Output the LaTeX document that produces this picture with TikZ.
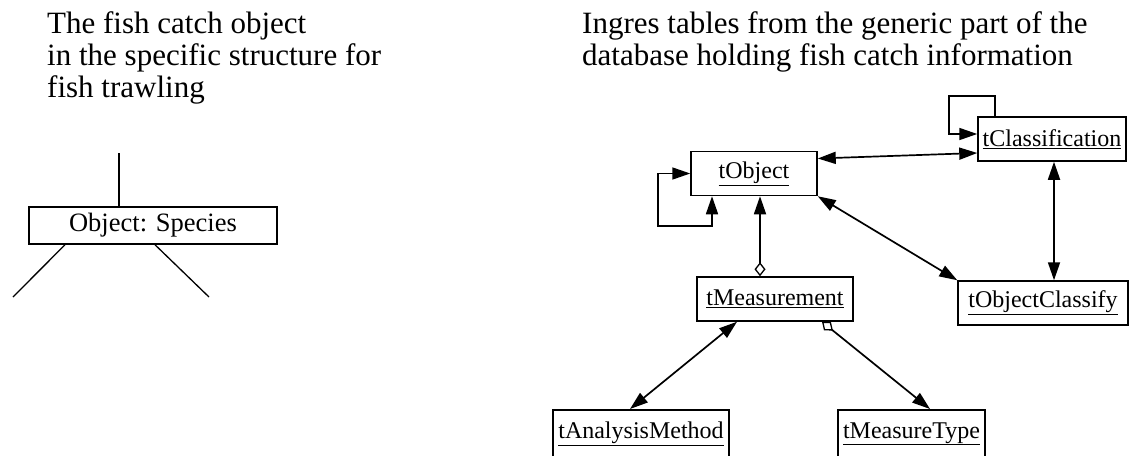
\documentclass[tikz,border=0pt]{standalone}
\usepackage{fontspec}
\setmainfont{Liberation Serif}
\usetikzlibrary{arrows.meta,positioning}
\tikzset{
    tbl/.style={draw,line width=1.5pt,inner sep=0pt,minimum height=44pt,font=\fontsize{24}{24}\selectfont},
    title/.style={inner sep=0pt,anchor=north west,align=left,font=\fontsize{31}{32}\selectfont},
    link/.style={line width=1.7pt},
    agg/.style={link,{Diamond[open,length=14pt,width=11pt,line width=1.3pt]}->},
}

\begin{document}
\begin{tikzpicture}[x=1pt,y=-1pt,>={Triangle[length=18pt,width=12pt]}]
    \useasboundingbox (0,0) rectangle (1132,455);
    \clip (0,0) rectangle (1132,455);
    % headings
    \node[title] (lhead) at (47,11) {The fish catch object\\in the specific structure for\\fish trawling};
    \node[title] (rhead) at (582,11) {Ingres tables from the generic part of the\\database holding fish catch information};
    % specific structure
    \node[tbl,minimum width=248pt,minimum height=37pt,font=\fontsize{26.5}{26.5}\selectfont] (species) at (153,225.5) {Object: Species};
    \coordinate (up) at (119,153);
    \coordinate (legl) at (13,297);
    \coordinate (legr) at (209,297);
    \draw[line width=1.3pt] (up) -- (up |- species.north);
    \draw[line width=1.3pt] ([xshift=-88pt]species.south) -- (legl);
    \draw[line width=1.3pt] ([xshift=2pt]species.south) -- (legr);
    % generic tables
    \node[tbl,minimum width=126pt] (obj) at (754,173.5) {\underline{tObject}};
    \node[tbl,minimum width=148pt] (cls) at (1052,139) {\underline{tClassification}};
    \node[tbl,minimum width=170pt] (objcls) at (1043,303) {\underline{tObjectClassify}};
    \node[tbl,minimum width=156pt] (meas) at (775,299) {\underline{tMeasurement}};
    \node[tbl,minimum width=176pt,minimum height=48pt,anchor=north] (method) at (641,409) {\underline{tAnalysisMethod}};
    \node[tbl,minimum width=147pt,minimum height=48pt,anchor=north] (mtype) at (911.5,409) {\underline{tMeasureType}};
    \draw[link,<->] ([xshift=-42pt]obj.south) -- ++(0,30) -- ++(-54,0) |- (obj.west);
    \draw[link,->] ([xshift=-57pt]cls.north) -- ++(0,-20) -- ++(-46,0) |- ([yshift=5pt]cls.west);
    \draw[link,<->] ([yshift=15pt]obj.east) -- ([yshift=-14pt]cls.west);
    \draw[link,<->] (obj.south east) -- (objcls.north west);
    \draw[link,<->] ([xshift=2pt]cls.south) -- ([xshift=2pt]cls.south |- objcls.north);
    \draw[agg] ([xshift=-15pt]meas.north) -- ([xshift=-15pt]meas.north |- obj.south);
    \draw[link,<->] ([xshift=-38pt]meas.south) -- ([xshift=-11pt]method.north);
    \draw[agg] ([xshift=47pt]meas.south) -- ([xshift=18.5pt]mtype.north);
\end{tikzpicture}
\end{document}
